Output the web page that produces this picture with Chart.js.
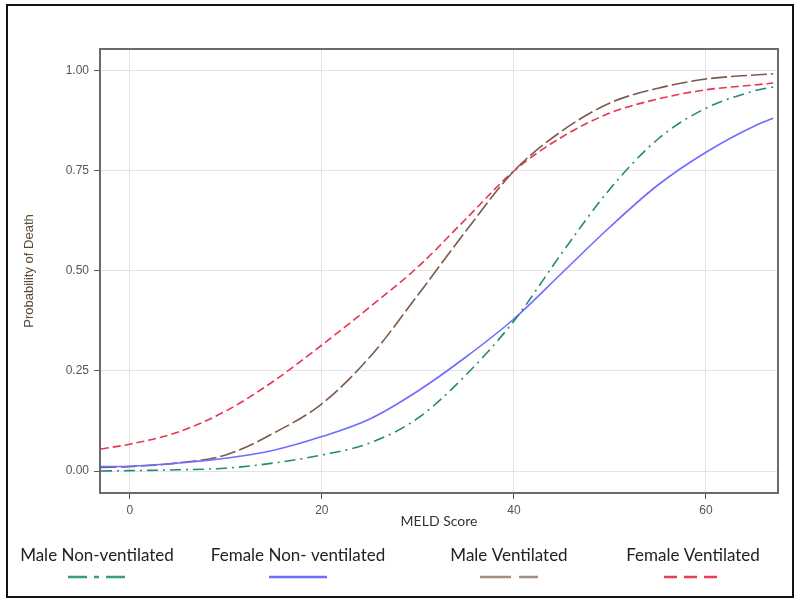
<!DOCTYPE html>
<html>
<head>
<meta charset="utf-8">
<script src="https://cdn.jsdelivr.net/npm/chart.js@4"></script>
<style>
  html, body { margin: 0; padding: 0; background: #fff; }
  #wrap { width: 800px; height: 603px; position: relative; }
</style>
</head>
<body>
<div id="wrap"><canvas id="chart" width="800" height="603"></canvas></div>
<script>
// MELD score sample points (x axis)
const meld = [-3, 0, 5, 10, 15, 20, 25, 30, 35, 40, 45, 50, 55, 60, 65, 67];

// Probability of death
const maleNonVent   = [0.0, 0.001, 0.003, 0.007, 0.02, 0.04, 0.07, 0.132, 0.24, 0.375, 0.545, 0.705, 0.83, 0.907, 0.95, 0.96];
const femaleNonVent = [0.011, 0.012, 0.02, 0.032, 0.052, 0.086, 0.13, 0.2, 0.285, 0.38, 0.495, 0.61, 0.715, 0.797, 0.862, 0.882];
const maleVent      = [0.009, 0.011, 0.02, 0.04, 0.095, 0.168, 0.285, 0.44, 0.60, 0.75, 0.85, 0.92, 0.957, 0.98, 0.99, 0.993];
const femaleVent    = [0.055, 0.067, 0.097, 0.15, 0.225, 0.315, 0.41, 0.51, 0.63, 0.75, 0.835, 0.895, 0.93, 0.953, 0.965, 0.97];

const xTicks = [0, 20, 40, 60];
const yTicks = [0, 0.25, 0.5, 0.75, 1];

const seriesNames = ['Male Non-ventilated', 'Female Non- ventilated', 'Male Ventilated', 'Female Ventilated'];
const seriesColors = ['#23897a', '#6f6cff', '#7b5a4a', '#e8344e'];
const legendColors = ['#3a9a88', '#6f6cff', '#a68e80', '#ec3a55'];
const dashes = [[11, 5, 2, 5], [], [16, 4], [8, 4]];
const legendDashes = [[19, 7, 5, 7], [], [31, 8], [13, 7]];

function toPoints(values) {
  return meld.map((x, i) => ({ x: x, y: values[i] }));
}

const allSeries = [maleNonVent, femaleNonVent, maleVent, femaleVent];

// Outer frame, plot frame and custom legend
const framePlugin = {
  id: 'frames',
  beforeDraw(chart) {
    const ctx = chart.ctx;
    ctx.save();
    ctx.fillStyle = '#fff';
    ctx.fillRect(0, 0, chart.width, chart.height);
    ctx.restore();
  },
  afterDraw(chart) {
    const ctx = chart.ctx;
    const a = chart.chartArea;
    ctx.save();
    // plot frame
    ctx.strokeStyle = '#6a6a6a';
    ctx.lineWidth = 2;
    ctx.strokeRect(a.left, a.top, a.right - a.left, a.bottom - a.top);
    // outer border
    ctx.strokeStyle = '#111';
    ctx.lineWidth = 2;
    ctx.strokeRect(7, 5, 786, 592);
    // legend: name on top, line sample below
    const centers = [97, 298, 509, 693];
    ctx.font = '17px Lato, "Open Sans", sans-serif';
    ctx.fillStyle = '#222';
    ctx.textAlign = 'center';
    ctx.textBaseline = 'middle';
    seriesNames.forEach((name, i) => {
      ctx.fillText(name, centers[i], 556);
      ctx.strokeStyle = legendColors[i];
      ctx.lineWidth = 2.5;
      ctx.setLineDash(legendDashes[i]);
      ctx.beginPath();
      ctx.moveTo(centers[i] - 29, 577);
      ctx.lineTo(centers[i] + 29, 577);
      ctx.stroke();
    });
    ctx.restore();
  }
};

new Chart(document.getElementById('chart'), {
  type: 'line',
  data: {
    datasets: allSeries.map((values, i) => ({
      label: seriesNames[i],
      data: toPoints(values),
      borderColor: seriesColors[i],
      backgroundColor: seriesColors[i],
      borderWidth: 1.6,
      borderDash: dashes[i],
      pointRadius: 0,
      cubicInterpolationMode: 'monotone',
      fill: false
    }))
  },
  options: {
    responsive: false,
    animation: false,
    layout: { padding: { left: 18, right: 22, top: 49, bottom: 73 } },
    plugins: {
      legend: { display: false },
      tooltip: { enabled: false }
    },
    scales: {
      x: {
        type: 'linear',
        min: -3.1,
        max: 67.5,
        afterBuildTicks: (scale) => { scale.ticks = xTicks.map(v => ({ value: v })); },
        afterFit: (scale) => { scale.height = 37; },
        grid: { color: '#e6e2ea', tickColor: '#555', tickLength: 6, lineWidth: 1 },
        border: { display: false },
        ticks: { color: '#555', font: { family: 'Liberation Sans, Arial', size: 12 }, padding: 4, maxRotation: 0 },
        title: { display: true, text: 'MELD Score', color: '#333', font: { family: 'Lato, sans-serif', size: 14 }, padding: 0 }
      },
      y: {
        type: 'linear',
        min: -0.055,
        max: 1.055,
        afterBuildTicks: (scale) => { scale.ticks = yTicks.map(v => ({ value: v })); },
        afterFit: (scale) => { scale.width = 82; },
        grid: { color: '#e6e2ea', tickColor: '#555', tickLength: 6, lineWidth: 1 },
        border: { display: false },
        ticks: { color: '#555', font: { family: 'Liberation Sans, Arial', size: 12 }, padding: 5, callback: v => v.toFixed(2) },
        title: { display: true, text: 'Probability of Death', color: '#5a4a3a', font: { family: 'Liberation Sans, Arial', size: 13 }, padding: 4 }
      }
    }
  },
  plugins: [framePlugin]
});
</script>
</body>
</html>
